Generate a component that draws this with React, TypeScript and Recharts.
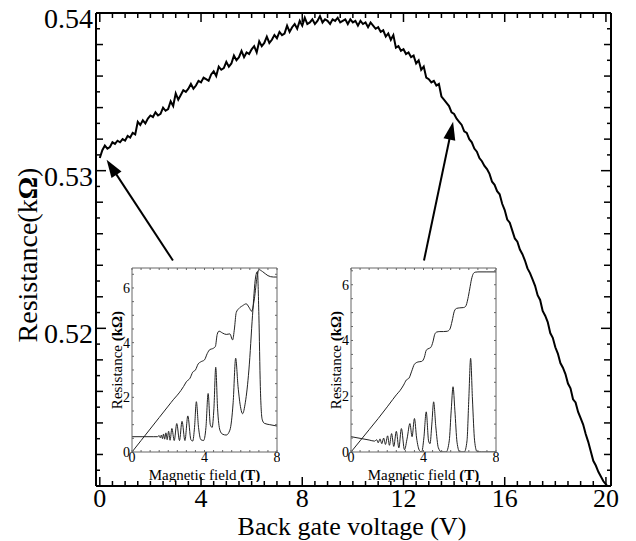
import { LineChart, Line, XAxis, YAxis, ReferenceLine } from 'recharts'

const FONT = '"Liberation Serif", "Times New Roman", serif'

// main sweep: back gate voltage from 0 V in 0.1 V steps, resistance in kOhm
const gateStep = 0.1
const resistance = [
  0.5308, 0.5313, 0.5316, 0.5314, 0.5315, 0.5318, 0.5317, 0.5319, 0.5318, 0.5320,
  0.5319, 0.5322, 0.5321, 0.5324, 0.5323, 0.5331, 0.5329, 0.5332, 0.5330, 0.5333,
  0.5335, 0.5334, 0.5337, 0.5335, 0.5336, 0.5340, 0.5338, 0.5339, 0.5344, 0.5341,
  0.5349, 0.5345, 0.5348, 0.5351, 0.5350, 0.5352, 0.5355, 0.5352, 0.5354, 0.5357,
  0.5356, 0.5359, 0.5358, 0.5357, 0.5361, 0.5363, 0.5360, 0.5366, 0.5364, 0.5365,
  0.5369, 0.5366, 0.5368, 0.5373, 0.5370, 0.5372, 0.5376, 0.5372, 0.5375, 0.5374,
  0.5377, 0.5379, 0.5375, 0.5382, 0.5379, 0.5381, 0.5385, 0.5381, 0.5383, 0.5386,
  0.5384, 0.5388, 0.5386, 0.5387, 0.5392, 0.5388, 0.5391, 0.5393, 0.5390, 0.5395,
  0.5392, 0.5397, 0.5393, 0.5394, 0.5396, 0.5393, 0.5395, 0.5398, 0.5394, 0.5396,
  0.5395, 0.5393, 0.5396, 0.5395, 0.5397, 0.5394, 0.5395, 0.5396, 0.5393, 0.5396,
  0.5394, 0.5395, 0.5392, 0.5395, 0.5393, 0.5394, 0.5391, 0.5394, 0.5392, 0.5390,
  0.5391, 0.5388, 0.5389, 0.5385, 0.5387, 0.5383, 0.5386, 0.5378, 0.5379, 0.5376,
  0.5377, 0.5374, 0.5375, 0.5372, 0.5373, 0.5368, 0.5370, 0.5364, 0.5366, 0.5359,
  0.5358, 0.5356, 0.5357, 0.5354, 0.5355, 0.5347, 0.5345, 0.5343, 0.5341, 0.5337,
  0.5336, 0.5333, 0.5331, 0.5329, 0.5325, 0.5324, 0.5320, 0.5318, 0.5314, 0.5312,
  0.5308, 0.5306, 0.5303, 0.5301, 0.5298, 0.5293, 0.5291, 0.5287, 0.5285, 0.5279,
  0.5275, 0.5269, 0.5267, 0.5262, 0.5257, 0.5255, 0.5250, 0.5247, 0.5243, 0.5238,
  0.5235, 0.5231, 0.5227, 0.5221, 0.5218, 0.5211, 0.5208, 0.5204, 0.5197, 0.5194,
  0.5188, 0.5184, 0.5178, 0.5175, 0.5171, 0.5165, 0.5162, 0.5155, 0.5153, 0.5147,
  0.5143, 0.5139, 0.5133, 0.5128, 0.5122, 0.5116, 0.5113, 0.5109, 0.5106, 0.5103,
  0.5101, 0.5099,
]
const mainData = resistance.map((r, i) => ({ v: +(i * gateStep).toFixed(1), r }))

const xTickLabels = [0, 4, 8, 12, 16, 20]
const yTickLabels = [0.52, 0.53, 0.54]
const xMinorTicks = Array.from({ length: 41 }, (_, i) => i * 0.5)
const yMinorTicks = Array.from({ length: 31 }, (_, i) => +(0.51 + i * 0.001).toFixed(3))

// arrows: tail -> tip, in data units
const arrowLeft = [{ x: 2.89, y: 0.5243 }, { x: 0.27, y: 0.5307 }]
const arrowRight = [{ x: 12.81, y: 0.5243 }, { x: 13.96, y: 0.5331 }]

// left inset (arrow from ~0 V)
const leftHallB = [0, 0.5, 1, 1.5, 2, 2.3, 2.5, 2.7, 2.85, 3.0, 3.2, 3.35, 3.5, 3.65, 3.8, 4.0, 4.15, 4.3, 4.45, 4.6, 4.7, 4.8, 5.0, 5.2, 5.4, 5.55, 5.65, 5.75, 5.9, 6.1, 6.3, 6.45, 6.6, 6.75, 6.9, 7.0, 7.2, 7.5, 7.8, 8.0]
const leftHallR = [0, 0.42, 0.84, 1.26, 1.68, 1.93, 2.08, 2.25, 2.4, 2.57, 2.7, 2.92, 3.0, 3.22, 3.3, 3.37, 3.6, 3.75, 3.78, 3.86, 4.3, 4.42, 4.35, 4.3, 4.32, 4.1, 4.5, 5.1, 5.25, 5.35, 5.42, 5.3, 5.15, 5.6, 6.4, 6.67, 6.6, 6.45, 6.4, 6.4]
const leftRxxB = [0, 0.6, 1.2, 1.4, 1.5, 1.56, 1.62, 1.68, 1.74, 1.8, 1.87, 1.94, 2.02, 2.1, 2.2, 2.33, 2.47, 2.62, 2.76, 2.92, 3.08, 3.25, 3.35, 3.45, 3.55, 3.67, 3.8, 3.95, 4.08, 4.2, 4.32, 4.42, 4.52, 4.62, 4.72, 4.85, 5.0, 5.2, 5.4, 5.58, 5.72, 5.85, 6.0, 6.1, 6.25, 6.45, 6.65, 6.82, 6.92, 7.0, 7.08, 7.18, 7.3, 7.6, 8.0]
const leftRxxR = [0.56, 0.56, 0.56, 0.56, 0.6, 0.52, 0.62, 0.49, 0.66, 0.47, 0.7, 0.45, 0.76, 0.43, 0.86, 0.42, 1.04, 0.42, 1.12, 0.42, 1.32, 0.45, 0.4, 0.9, 1.84, 0.9, 0.45, 0.42, 0.9, 2.14, 1.0, 0.9, 1.6, 3.1, 1.6, 0.8, 0.65, 0.62, 0.8, 1.8, 3.43, 2.4, 1.6, 1.4, 1.8, 3.0, 5.0, 6.4, 6.6, 5.0, 2.4, 1.2, 1.05, 1.0, 0.95]

// right inset (arrow from ~14 V)
const rightHallB = [0, 0.5, 1.0, 1.5, 2.0, 2.3, 2.5, 2.7, 2.9, 3.05, 3.2, 3.35, 3.5, 3.7, 3.9, 4.05, 4.15, 4.25, 4.4, 4.52, 4.62, 4.72, 4.9, 5.1, 5.3, 5.45, 5.58, 5.7, 5.82, 6.0, 6.2, 6.32, 6.45, 6.55, 6.65, 6.75, 6.85, 7.0, 7.5, 8.0]
const rightHallR = [0, 0.4, 0.8, 1.2, 1.62, 1.88, 2.05, 2.2, 2.4, 2.58, 2.65, 2.9, 3.15, 3.23, 3.25, 3.4, 3.65, 3.7, 3.75, 3.95, 4.22, 4.3, 4.32, 4.32, 4.33, 4.4, 4.7, 5.05, 5.15, 5.17, 5.18, 5.22, 5.5, 5.85, 6.2, 6.4, 6.45, 6.46, 6.46, 6.46]
const rightRxxB = [0, 0.5, 1.0, 1.3, 1.42, 1.5, 1.6, 1.7, 1.8, 1.9, 2.02, 2.12, 2.24, 2.36, 2.5, 2.64, 2.78, 2.95, 3.1, 3.25, 3.37, 3.5, 3.62, 3.78, 3.9, 4.02, 4.15, 4.28, 4.36, 4.46, 4.56, 4.68, 4.82, 5.0, 5.25, 5.42, 5.53, 5.63, 5.73, 5.85, 6.0, 6.25, 6.4, 6.5, 6.6, 6.7, 6.82, 6.95, 7.2, 8.0]
const rightRxxR = [0.55, 0.49, 0.43, 0.39, 0.44, 0.33, 0.47, 0.3, 0.5, 0.27, 0.58, 0.24, 0.66, 0.2, 0.74, 0.15, 0.84, 0.08, 0.5, 1.02, 0.55, 1.2, 0.5, 0.05, 0, 0.5, 1.44, 0.4, 0.3, 1.0, 1.8, 0.9, 0.15, 0, 0, 0.4, 1.5, 2.34, 1.5, 0.35, 0, 0, 0.4, 1.9, 3.36, 1.9, 0.4, 0.02, 0, 0]

const insetXLabels = [0, 4, 8]
const insetYLabels = [0, 2, 4, 6]
const insetXTicks = Array.from({ length: 17 }, (_, i) => i * 0.5)
const insetYTicks = Array.from({ length: 14 }, (_, i) => i * 0.5)

const pairs = (bs: number[], rs: number[]) => bs.map((b, i) => ({ b, r: rs[i] }))

const near = (list: number[], v: number) => list.some(t => Math.abs(t - v) < 1e-6)

function BottomTick({ x, y, payload }: any) {
  const lab = near(xTickLabels, payload.value)
  return (
    <g>
      <line x1={x} y1={y} x2={x} y2={y - (lab ? 9 : 5)} stroke="#000" strokeWidth={1.5} />
      {lab && <text x={x} y={y + 21} textAnchor="middle" fontFamily={FONT} fontSize={26} fill="#000">{payload.value}</text>}
    </g>
  )
}

function TopTick({ x, y, payload }: any) {
  const lab = near(xTickLabels, payload.value)
  return <line x1={x} y1={y} x2={x} y2={y + (lab ? 9 : 5)} stroke="#000" strokeWidth={1.5} />
}

function LeftTick({ x, y, payload }: any) {
  const lab = near(yTickLabels, payload.value)
  const even = Math.round(payload.value * 1000) % 2 === 0
  return (
    <g>
      <line x1={x} y1={y} x2={x + (lab ? 10 : even ? 7 : 4)} y2={y} stroke="#000" strokeWidth={1.5} />
      {lab && <text x={x - 3} y={y + 15} textAnchor="end" fontFamily={FONT} fontSize={28} fill="#000">{payload.value.toFixed(2)}</text>}
    </g>
  )
}

function RightTick({ x, y, payload }: any) {
  const lab = near(yTickLabels, payload.value)
  const even = Math.round(payload.value * 1000) % 2 === 0
  return <line x1={x} y1={y} x2={x - (lab ? 10 : even ? 7 : 4)} y2={y} stroke="#000" strokeWidth={1.5} />
}

function ArrowShape(props: any) {
  const { x1, y1, x2, y2 } = props
  const dx = x2 - x1
  const dy = y2 - y1
  const len = Math.hypot(dx, dy) || 1
  const ux = dx / len
  const uy = dy / len
  const hl = 18
  const hw = 6
  const bx = x2 - ux * hl
  const by = y2 - uy * hl
  return (
    <g>
      <line x1={x1} y1={y1} x2={bx + ux * 3} y2={by + uy * 3} stroke="#000" strokeWidth={2} />
      <polygon points={`${x2},${y2} ${bx - uy * hw},${by + ux * hw} ${bx + uy * hw},${by - ux * hw}`} fill="#000" />
    </g>
  )
}

function Inset({ left, top, yMax, hall, rxx }: { left: number; top: number; yMax: number; hall: any[]; rxx: any[] }) {
  const axisStroke = { stroke: '#666', strokeWidth: 1 }
  const insetBottom = ({ x, y, payload }: any) => {
    const lab = near(insetXLabels, payload.value)
    return (
      <g>
        <line x1={x} y1={y} x2={x} y2={y - 2} stroke="#666" />
        {lab && <text x={x} y={y + 10} textAnchor="middle" fontFamily={FONT} fontSize={14} fill="#000">{payload.value}</text>}
      </g>
    )
  }
  const insetTop = ({ x, y }: any) => <line x1={x} y1={y} x2={x} y2={y + 2} stroke="#666" />
  const insetLeft = ({ x, y, payload }: any) => {
    const lab = near(insetYLabels, payload.value)
    return (
      <g>
        <line x1={x} y1={y} x2={x + 2} y2={y} stroke="#666" />
        {lab && <text x={x - 2} y={y + 5} textAnchor="end" fontFamily={FONT} fontSize={14} fill="#000">{payload.value}</text>}
      </g>
    )
  }
  const insetRight = ({ x, y }: any) => <line x1={x} y1={y} x2={x - 2} y2={y} stroke="#666" />

  return (
    <div style={{ position: 'absolute', left: left - 34, top: top - 2 }}>
      <LineChart width={182} height={216} margin={{ top: 0, right: 0, bottom: 0, left: 0 }}>
        <XAxis xAxisId="b" type="number" dataKey="b" domain={[0, 8]} ticks={insetXTicks} interval={0}
          orientation="bottom" height={30} axisLine={axisStroke} tickLine={false} tickSize={0} tickMargin={0}
          tick={insetBottom} allowDataOverflow
          label={{ content: () => (
            <text x={34 + 72.5} y={214} textAnchor="middle" fontFamily={FONT} fontSize={15} fill="#000">
              Magnetic field <tspan fontWeight="bold">(T)</tspan>
            </text>
          ) }} />
        <XAxis xAxisId="t" type="number" dataKey="b" domain={[0, 8]} ticks={insetXTicks} interval={0}
          orientation="top" height={2} axisLine={axisStroke} tickLine={false} tickSize={0} tickMargin={0}
          tick={insetTop} allowDataOverflow />
        <YAxis yAxisId="l" type="number" domain={[0, yMax]} ticks={insetYTicks} interval={0}
          width={34} axisLine={axisStroke} tickLine={false} tickSize={0} tickMargin={0}
          tick={insetLeft} allowDataOverflow
          label={{ content: () => (
            <text transform={`translate(24, ${2 + 92}) rotate(-90)`} textAnchor="middle" fontFamily={FONT} fontSize={15} fill="#000">
              Resistance <tspan fontWeight="bold">(kΩ)</tspan>
            </text>
          ) }} />
        <YAxis yAxisId="r" orientation="right" type="number" domain={[0, yMax]} ticks={insetYTicks} interval={0}
          width={3} axisLine={axisStroke} tickLine={false} tickSize={0} tickMargin={0}
          tick={insetRight} allowDataOverflow />
        <Line xAxisId="b" yAxisId="l" data={hall} dataKey="r" type="monotone" stroke="#222" strokeWidth={1}
          dot={false} isAnimationActive={false} />
        <Line xAxisId="b" yAxisId="l" data={rxx} dataKey="r" type="monotone" stroke="#222" strokeWidth={1}
          dot={false} isAnimationActive={false} />
      </LineChart>
    </div>
  )
}

export default function App() {
  const border = { stroke: '#000', strokeWidth: 2 }
  return (
    <div style={{ position: 'absolute', left: 0, top: 0, width: 636, height: 541, background: '#fff', fontFamily: FONT }}>
      <LineChart width={636} height={541} data={mainData} margin={{ top: 0, right: 0, bottom: 0, left: 0 }}>
        <XAxis xAxisId="b" type="number" dataKey="v" domain={[-0.15, 20.2]} ticks={xMinorTicks} interval={0}
          orientation="bottom" height={55} axisLine={border} tickLine={false} tickSize={0} tickMargin={0}
          tick={BottomTick} allowDataOverflow
          label={{ content: () => (
            <text x={352} y={535} textAnchor="middle" fontFamily={FONT} fontSize={26} fill="#000">Back gate voltage (V)</text>
          ) }} />
        <XAxis xAxisId="t" type="number" dataKey="v" domain={[-0.15, 20.2]} ticks={xMinorTicks} interval={0}
          orientation="top" height={13} axisLine={border} tickLine={false} tickSize={0} tickMargin={0}
          tick={TopTick} allowDataOverflow />
        <YAxis yAxisId="l" type="number" domain={[0.51, 0.54]} ticks={yMinorTicks} interval={0}
          width={96} axisLine={border} tickLine={false} tickSize={0} tickMargin={0}
          tick={LeftTick} allowDataOverflow
          label={{ content: () => (
            <text transform="translate(37, 255) rotate(-90)" textAnchor="middle" fontFamily={FONT} fontSize={28} fill="#000">
              Resistance(k<tspan fontWeight="bold">Ω</tspan>)
            </text>
          ) }} />
        <YAxis yAxisId="r" orientation="right" type="number" domain={[0.51, 0.54]} ticks={yMinorTicks} interval={0}
          width={25} axisLine={border} tickLine={false} tickSize={0} tickMargin={0}
          tick={RightTick} allowDataOverflow />
        <Line xAxisId="b" yAxisId="l" dataKey="r" type="linear" stroke="#000" strokeWidth={2}
          dot={false} isAnimationActive={false} />
        <ReferenceLine xAxisId="b" yAxisId="l" segment={arrowLeft} shape={ArrowShape} ifOverflow="visible" />
        <ReferenceLine xAxisId="b" yAxisId="l" segment={arrowRight} shape={ArrowShape} ifOverflow="visible" />
      </LineChart>
      <Inset left={132} top={268} yMax={6.73} hall={pairs(leftHallB, leftHallR)} rxx={pairs(leftRxxB, leftRxxR)} />
      <Inset left={351} top={268} yMax={6.6} hall={pairs(rightHallB, rightHallR)} rxx={pairs(rightRxxB, rightRxxR)} />
    </div>
  )
}
